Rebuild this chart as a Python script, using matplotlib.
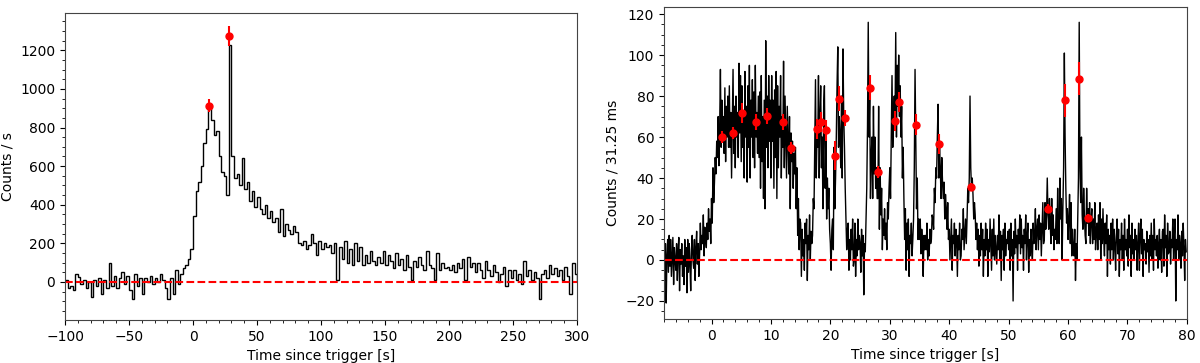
import numpy as np
import matplotlib
matplotlib.use('Agg')
import matplotlib.pyplot as plt

# left panel: counts/s, 2 s bins from -100 to 300 s
left_edges = np.arange(-100, 302, 2)
left_rate = [
    10, -30, -20, -40, 40, 25, -10, 10, -30, 0,
    -80, 10, -20, 20, -60, 10, -30, 100, -20, 30,
    -30, 20, 50, -10, 30, -40, -90, 40, -20, 20,
    -60, 20, 0, 30, -10, 20, 0, 40, 10, -30,
    -90, 20, -60, 60, -10, 40, 70, 90, 120, 170,
    340, 470, 520, 600, 720, 790, 900, 840, 760, 780,
    650, 570, 550, 450, 1225, 650, 540, 560, 500, 640,
    480, 520, 420, 470, 390, 440, 380, 350, 400, 330,
    370, 310, 330, 260, 380, 240, 300, 270, 250, 290,
    260, 200, 190, 210, 170, 190, 250, 200, 140, 210,
    170, 200, 180, 190, 150, 200, 10, 180, 120, 210,
    100, 170, 90, 200, 110, 180, 90, 140, 100, 160,
    110, 90, 130, 100, 160, 90, 140, 110, 70, 150,
    90, 120, 60, 140, 80, 10, 110, 80, 130, 90,
    60, 160, 90, 70, 10, 150, 60, 100, 70, 80,
    60, 90, 50, 100, 70, 120, 10, 130, 80, 100,
    50, 100, 60, 20, 110, 60, 30, 90, 50, 0,
    40, 80, -20, 60, 20, 60, 10, 40, -10, 110,
    30, 60, 10, 50, 20, -90, 40, 60, 20, 90,
    40, 70, 30, 60, 10, 80, 30, -60, 100, 40,
]
left_pts_t = [12.7, 28.2]
left_pts_y = [914, 1274]
left_pts_err = [35, 52]

# right panel: counts per 31.25 ms, read every 0.125 s from -8 to 80 s
right_t = np.arange(-8, 80, 0.125)
right_counts = [
    5, -10, 8, -21, 2, 10, -6, 12,
    -3, 10, -8, 2, 11, -12, 6, 0,
    -5, 8, -10, 4, 11, -15, 5, -2,
    8, -8, 2, -12, 10, -3, 6, -16,
    10, -6, 8, -2, -15, 5, 12, 0,
    -4, 10, -10, 6, 14, -2, 8, -8,
    3, 18, 5, 12, 8, 22, 2, 16,
    12, 6, 18, 10, 25, 14, 20, 8,
    30, 18, 45, 28, 38, 50, 42, 58,
    50, 70, 46, 65, 93, 55, 78, 60,
    70, 52, 84, 48, 75, 60, 80, 55,
    85, 55, 72, 40, 68, 93, 52, 75,
    45, 80, 60, 72, 50, 96, 62, 90,
    48, 85, 55, 70, 40, 92, 60, 75,
    38, 85, 55, 95, 40, 78, 60, 88,
    50, 82, 45, 95, 60, 72, 52, 80,
    50, 82, 35, 90, 48, 70, 30, 78,
    25, 107, 55, 80, 45, 90, 58, 78,
    40, 90, 58, 78, 35, 83, 50, 92,
    30, 85, 45, 75, 60, 90, 40, 70,
    55, 97, 45, 80, 60, 40, 75, 58,
    42, 70, 25, 62, 48, 58, 35, 52,
    42, 55, 25, 45, 12, 30, 5, 20,
    18, -8, 15, 2, 10, -5, 18, 8,
    20, -10, 12, 5, 22, 0, 14, 8,
    12, 30, 25, 55, 88, 40, 60, 55,
    90, 40, 70, 85, 45, 60, 25, 75,
    85, 35, 60, 20, 40, 25, 35, 15,
    8, -5, 15, 20, 5, 55, 25, 40,
    60, 85, 104, 55, 70, 60, 45, 80,
    40, 103, 70, 55, 35, 20, 5, 15,
    18, -5, 10, 0, 15, 5, 20, -3,
    0, 18, -8, 10, 2, 20, 5, 12,
    8, -6, 15, 2, 12, -17, 8, 4,
    20, 35, 65, 116, 60, 80, 30, 50,
    60, 30, 75, 42, 60, 35, 45, 30,
    30, 75, 15, 45, 22, 35, 5, 20,
    12, 25, 10, 18, 5, 28, 20, 35,
    45, 30, 60, 90, 55, 70, 80, 65,
    111, 60, 95, 75, 100, 70, 85, 60,
    75, 40, 55, 30, 10, 25, -5, 18,
    5, 20, -8, 12, 8, 18, 2, 10,
    20, 45, 93, 60, 25, 40, 10, 20,
    10, 20, 3, 15, 8, -8, 12, 5,
    12, 5, 18, 0, 10, 2, 15, 8,
    10, 22, 20, 15, 35, 28, 45, 40,
    60, 76, 40, 55, 45, 30, 50, 38,
    30, 38, 20, 32, 25, 15, 28, 10,
    15, 0, 10, 20, -5, 12, 8, 18,
    2, 15, 10, -8, 12, 5, 18, 0,
    2, 15, 10, 25, 5, 12, 20, 8,
    20, 35, 28, 40, 80, 45, 35, 40,
    32, 20, 28, 22, 10, 18, 5, 15,
    -3, 12, 2, 18, 5, 15, -8, 10,
    2, 18, 5, 15, -8, 10, 4, 20,
    8, -5, 15, 2, 20, 0, 12, 5,
    -2, 12, 5, 22, 0, 14, -10, 12,
    5, 15, -5, 18, 2, 10, 8, 14,
    5, 15, -5, 18, 2, 10, -20, 14,
    3, 20, 6, 12, -5, 15, 8, 22,
    3, 20, 6, 12, -5, 15, 8, 22,
    0, 12, 18, -6, 10, 2, 15, 5,
    0, 18, 8, 12, 25, 5, 15, 20,
    5, 22, 10, 18, 2, 15, 28, 8,
    10, 28, 15, 22, 40, 22, 15, 30,
    18, 8, 30, 12, 22, 5, 15, 10,
    25, 8, 35, 12, 8, 40, 20, 30,
    0, 25, 45, 101, 60, 35, 18, 25,
    10, 20, 32, 8, 28, 2, 15, 5,
    2, 15, -10, 8, 0, 20, 40, 116,
    45, 28, 60, 22, 15, 35, 22, 12,
    8, 35, 18, 25, 12, 28, 8, 20,
    25, 8, 20, 10, 28, 5, 15, 18,
    5, 22, 10, 28, 0, 20, 8, 25,
    10, 2, 18, 8, 22, -8, 15, 5,
    12, -2, 18, 5, 20, 0, 15, 8,
    -5, 12, 20, 3, 15, -8, 10, 5,
    18, 0, 12, -5, 20, 5, 10, 2,
    15, -3, 22, 6, 12, -8, 18, 3,
    10, 0, 15, 5, 12, -5, 8, 18,
    -5, 12, 20, 3, 15, -8, 10, 5,
    8, -2, 14, 4, 10, -6, 12, 2,
    18, 0, 12, -5, 20, 5, 10, 2,
    12, -4, 8, 15, 0, 10, -6, 14,
    15, -3, 22, 6, 12, -8, 18, 3,
    4, 14, -2, 10, 6, 20, 0, 12,
    20, -20, 10, 5, 22, 0, 12, 8,
    -4, 14, 2, 18, 6, -10, 10, 4,
]
right_pts_t = [1.8, 3.7, 5.1, 7.5, 9.4, 12.1, 13.3, 17.7, 18.4, 19.2, 20.7, 21.4,
               22.5, 26.7, 28.0, 30.8, 31.6, 34.4, 38.2, 43.6, 56.7, 59.5, 61.9, 63.4]
right_pts_y = [60, 62, 71.8, 67.3, 70.4, 67.4, 54.5, 63.8, 67.3, 63.3, 50.9, 78.7,
               69.2, 84.1, 42.8, 67.8, 77.2, 66.1, 56.5, 35.6, 25.1, 78, 88.5, 20.6]
right_pts_err = [3, 3, 5, 4, 4, 4, 3, 5, 5, 5, 7, 6,
                 4, 6, 3, 5, 5, 5, 5, 2, 2, 8, 8, 2]

fig = plt.figure(figsize=(12, 3.63), dpi=100)
ax1 = fig.add_axes([0.0542, 0.1185, 0.4267, 0.8466])
ax2 = fig.add_axes([0.5533, 0.1212, 0.4358, 0.8603])

ax1.stairs(left_rate, left_edges, color='black', lw=1)
ax1.axhline(0, color='red', ls='--', lw=1.5)
ax1.errorbar(left_pts_t, left_pts_y, yerr=left_pts_err, fmt='o', color='red',
             ms=5, elinewidth=1.5, zorder=5)
ax1.set_xlim(-100, 300)
ax1.set_ylim(-197, 1395)
ax1.set_xlabel('Time since trigger [s]')
ax1.set_ylabel('Counts / s')
ax1.minorticks_on()

ax2.plot(right_t, right_counts, color='black', lw=1)
ax2.axhline(0, color='red', ls='--', lw=1.5)
ax2.errorbar(right_pts_t, right_pts_y, yerr=right_pts_err, fmt='o', color='red',
             ms=5, elinewidth=1.5, zorder=5)
ax2.set_xlim(-8, 80)
ax2.set_ylim(-28.8, 123.6)
ax2.set_xlabel('Time since trigger [s]')
ax2.set_ylabel('Counts / 31.25 ms')
ax2.minorticks_on()

for ax in (ax1, ax2):
    ax.tick_params(labelsize=10)
    for s in ax.spines.values():
        s.set_color('#444444')

plt.savefig('out.png', dpi=100)
